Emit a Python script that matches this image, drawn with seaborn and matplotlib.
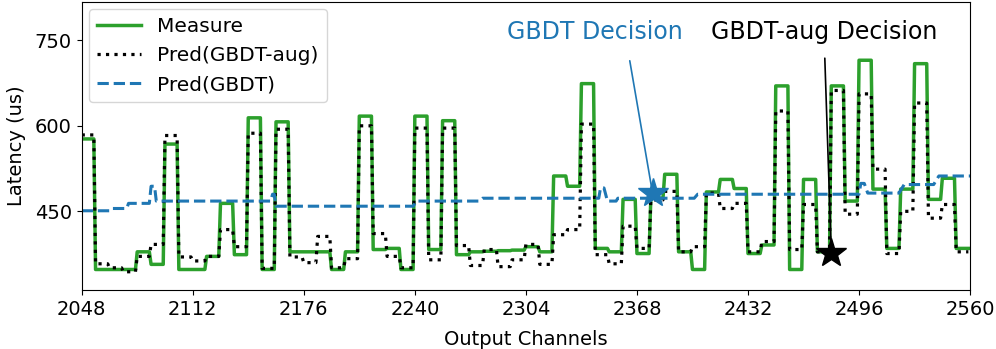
import numpy as np
import pandas as pd
import seaborn as sns
import matplotlib.pyplot as plt

# latency per block of 8 output channels, starting at 2048
block_start = 2048
block_size = 8
measure = [577, 348, 348, 348, 379, 357, 568, 348,
           348, 371, 464, 374, 614, 348, 607, 379,
           379, 379, 348, 379, 617, 383, 385, 348,
           617, 383, 609, 374, 379, 380, 381, 382,
           388, 379, 512, 494, 674, 385, 379, 471,
           376, 473, 515, 379, 348, 484, 506, 490,
           376, 391, 670, 348, 506, 379, 670, 468,
           715, 489, 385, 489, 709, 471, 508, 385]
pred_gbdt_aug = [584, 358, 351, 344, 371, 392, 583, 370,
                 363, 371, 418, 388, 587, 350, 594, 370,
                 360, 406, 351, 367, 600, 411, 371, 351,
                 596, 365, 596, 390, 355, 383, 353, 365,
                 392, 357, 409, 418, 603, 374, 358, 424,
                 385, 470, 485, 379, 388, 482, 455, 464,
                 379, 397, 626, 383, 462, 379, 662, 445,
                 656, 524, 376, 450, 640, 438, 462, 379]

# GBDT prediction read as (channel, latency) knots
gbdt_ch = [2048, 2065, 2066, 2074, 2075, 2087, 2088, 2090, 2091, 2157, 2158, 2159,
           2160, 2239, 2241, 2277, 2279, 2346, 2347, 2349, 2351, 2356, 2357, 2401,
           2403, 2496, 2497, 2499, 2501, 2519, 2522, 2539, 2542, 2560]
gbdt_lat = [451, 451, 455, 455, 464, 464, 494, 494, 468, 468, 480, 480,
            459, 459, 468, 468, 473, 473, 491, 491, 468, 468, 473, 473,
            480, 480, 499, 499, 482, 482, 497, 497, 512, 512]

gbdt_pick = (2377, 482)
gbdt_aug_pick = (2480, 377)

channels = np.arange(block_start, block_start + block_size * len(measure))
df = pd.DataFrame({
    'channels': channels,
    'measure': np.repeat(measure, block_size),
    'aug': np.repeat(pred_gbdt_aug, block_size),
})
df_gbdt = pd.DataFrame({'channels': gbdt_ch, 'lat': gbdt_lat})

fig, ax = plt.subplots(figsize=(9.96, 3.49), dpi=100)
sns.lineplot(data=df, x='channels', y='measure', color='tab:green', linewidth=2.5,
             label='Measure', ax=ax)
sns.lineplot(data=df, x='channels', y='aug', color='black', linestyle=':', linewidth=2.3,
             label='Pred(GBDT-aug)', ax=ax)
sns.lineplot(data=df_gbdt, x='channels', y='lat', color='tab:blue', linestyle='--', linewidth=2.2,
             label='Pred(GBDT)', ax=ax)

ax.plot(*gbdt_pick, marker='*', color='tab:blue', markersize=22)
ax.plot(*gbdt_aug_pick, marker='*', color='black', markersize=22)
ax.annotate('GBDT Decision', xy=gbdt_pick, xytext=(2344, 764), color='tab:blue',
            fontsize=17, ha='center', va='center',
            arrowprops=dict(arrowstyle='-', color='tab:blue', lw=1.2, relpos=(0.68, 0),
                            shrinkA=10, shrinkB=0))
ax.annotate('GBDT-aug Decision', xy=gbdt_aug_pick, xytext=(2476, 764), color='black',
            fontsize=17, ha='center', va='center',
            arrowprops=dict(arrowstyle='-', color='black', lw=1.2, relpos=(0.5, 0),
                            shrinkA=8, shrinkB=0))

ax.set_xlim(2048, 2560)
ax.set_ylim(312, 817)
ax.set_xticks(range(2048, 2561, 64))
ax.set_yticks([450, 600, 750])
ax.tick_params(labelsize=14)
ax.set_xlabel('Output Channels', fontsize=14, labelpad=8)
ax.set_ylabel('Latency (us)', fontsize=14, labelpad=6)
ax.legend(loc='upper left', fontsize=14.5, borderaxespad=0.35, handlelength=2.2)

fig.subplots_adjust(left=0.082, right=0.974, top=0.994, bottom=0.169)
fig.savefig('out.png', dpi=100)
